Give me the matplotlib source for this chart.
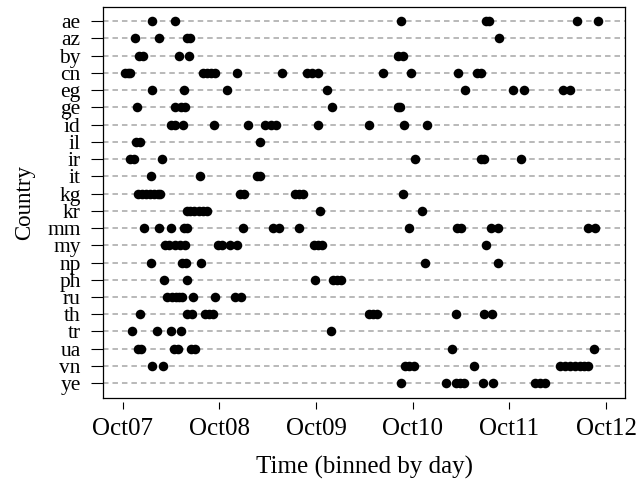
import matplotlib
matplotlib.use("Agg")
import matplotlib.pyplot as plt

plt.rcParams['font.family'] = ['Liberation Serif', 'DejaVu Serif']

countries = ["ae", "az", "by", "cn", "eg", "ge", "id", "il", "ir", "it", "kg",
             "kr", "mm", "my", "np", "ph", "ru", "th", "tr", "ua", "vn", "ye"]

# event times, in units from the "Oct07" tick
times = {
    "ae": [0.30, 0.54, 2.88, 3.76, 3.79, 4.70, 4.92],
    "az": [0.13, 0.375, 0.67, 0.70, 3.89],
    "by": [0.165, 0.21, 0.58, 0.69, 2.85, 2.90],
    "cn": [0.02, 0.05, 0.08, 0.83, 0.87, 0.91, 0.95, 1.18, 1.65, 1.91, 1.96,
           2.02, 2.69, 2.98, 3.47, 3.66, 3.71],
    "eg": [0.30, 0.63, 1.08, 2.11, 3.54, 4.04, 4.15, 4.55, 4.63],
    "ge": [0.15, 0.54, 0.60, 0.64, 2.16, 2.85, 2.87],
    "id": [0.50, 0.54, 0.62, 0.94, 1.30, 1.47, 1.53, 1.59, 2.02, 2.55, 2.91, 3.15],
    "il": [0.14, 0.18, 1.415],
    "ir": [0.08, 0.12, 0.41, 3.02, 3.71, 3.74, 4.12],
    "it": [0.29, 0.80, 1.39, 1.42],
    "kg": [0.155, 0.20, 0.24, 0.28, 0.32, 0.36, 0.39, 1.21, 1.25, 1.78, 1.82,
           1.87, 2.90],
    "kr": [0.66, 0.70, 0.74, 0.785, 0.83, 0.87, 2.04, 3.10],
    "mm": [0.22, 0.38, 0.50, 0.63, 0.67, 1.24, 1.55, 1.615, 1.82, 2.96, 3.46,
           3.50, 3.81, 3.88, 4.81, 4.89],
    "my": [0.44, 0.48, 0.54, 0.59, 0.64, 0.99, 1.03, 1.105, 1.18, 1.98, 2.02,
           2.06, 3.76],
    "np": [0.29, 0.61, 0.65, 0.81, 3.13, 3.88],
    "ph": [0.43, 0.66, 1.99, 2.18, 2.22, 2.26],
    "ru": [0.46, 0.51, 0.55, 0.58, 0.61, 0.73, 0.95, 1.16, 1.22],
    "th": [0.18, 0.67, 0.72, 0.85, 0.89, 0.93, 2.55, 2.59, 2.63, 3.45, 3.74, 3.82],
    "tr": [0.10, 0.35, 0.50, 0.60, 2.15],
    "ua": [0.155, 0.185, 0.53, 0.57, 0.71, 0.75, 3.41, 4.88],
    "vn": [0.30, 0.42, 2.92, 2.96, 3.01, 3.63, 4.52, 4.58, 4.63, 4.68, 4.73,
           4.77, 4.81],
    "ye": [2.88, 3.34, 3.45, 3.49, 3.53, 3.73, 3.83, 4.27, 4.32, 4.37],
}

tick_pos = [0, 1, 2, 3, 4, 5]
tick_labels = ["Oct07", "Oct08", "Oct09", "Oct10", "Oct11", "Oct12"]

fig = plt.figure(figsize=(6.36, 4.92), dpi=100)
ax = fig.add_axes([103.3 / 636, 1 - 397.7 / 492, (625 - 103.3) / 636,
                   (397.7 - 6.7) / 492])

for i, c in enumerate(countries):
    ax.axhline(i, color="#a6a6a6", lw=1.1, dashes=(3.6, 2.6), zorder=1)
    ax.plot(times[c], [i] * len(times[c]), "o", color="black",
            markersize=6.9, markeredgewidth=0, zorder=3)

ax.set_xlim(-0.201, 5.196)
ax.set_ylim(len(countries) - 1 + 0.84, -0.84)

ax.set_yticks(range(len(countries)))
ax.set_yticklabels(countries, fontsize=15.5)
ax.tick_params(axis="y", direction="out", length=8.3, width=0.8, pad=8)

ax.tick_params(axis="x", bottom=False, labelbottom=False)
sec = ax.secondary_xaxis(-0.0102)
sec.set_xticks(tick_pos)
sec.set_xticklabels(tick_labels, fontsize=18)
sec.tick_params(axis="x", direction="out", length=4.8, width=0.8, pad=7)
sec.spines["bottom"].set_visible(False)

for s in ax.spines.values():
    s.set_linewidth(0.9)

ax.set_ylabel("Country", fontsize=16.5, labelpad=9)
fig.text(364.2 / 636, 1 - 467 / 492, "Time (binned by day)", fontsize=18,
         ha="center", va="center")

fig.savefig("out.png", dpi=100)
